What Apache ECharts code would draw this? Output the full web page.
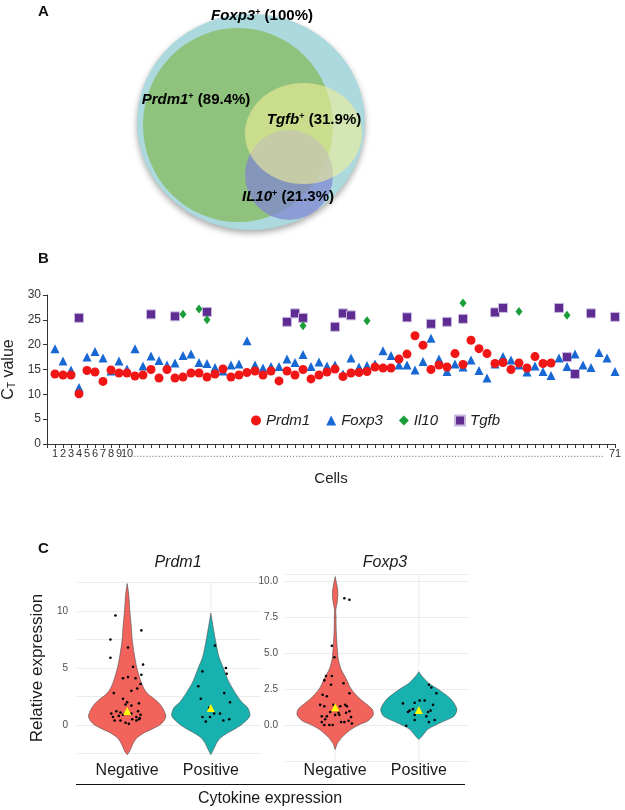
<!DOCTYPE html>
<html><head><meta charset="utf-8">
<script src="https://cdn.jsdelivr.net/npm/echarts@6/dist/echarts.min.js"></script>
<style>html,body{margin:0;padding:0;background:#fff}#c{width:625px;height:810px}</style>
</head><body><div id="c"></div>
<script>
const FONT = '"Liberation Sans", Arial, sans-serif';

// ---------- Panel A : Venn ----------
const vennSets = ['Foxp3', 'Prdm1', 'Tgfb', 'IL10'];
const vennPercent = ['100%', '89.4%', '31.9%', '21.3%'];

// ---------- Panel B : CT values per cell ----------
const prdm1Ct = [14.1,13.9,13.9,10.1,14.8,14.5,12.6,14.9,14.3,14.3,
 13.7,13.9,15.0,13.3,15.0,13.3,13.5,14.3,14.3,13.5,
 14.1,15.1,13.5,13.9,14.4,14.7,13.9,14.7,12.7,14.7,
 13.9,15.0,13.1,13.9,14.5,15.1,13.6,14.3,14.4,14.6,
 15.5,15.3,15.3,17.1,18.1,21.8,19.9,15.0,15.9,15.5,
 18.2,16.0,20.9,19.2,18.2,16.2,16.4,15.0,16.3,15.3,
 17.6,16.2,16.3,null,null,null,null,null,null,null,null];
const foxp3Ct = [19.2,16.7,14.9,11.4,17.5,18.6,17.3,14.7,16.7,15.1,
 19.2,15.7,17.7,16.8,15.9,16.3,17.8,18.1,16.4,16.2,
 15.4,14.7,15.9,16.1,20.8,15.9,15.3,15.6,15.6,17.1,
 16.4,18.0,15.6,16.5,15.7,15.9,14.1,17.3,15.5,15.8,
 16.1,18.8,17.8,15.9,15.9,14.9,16.6,21.3,17.1,14.6,
 16.1,15.5,16.9,14.8,13.3,16.1,17.6,16.9,15.9,14.5,
 15.7,14.6,13.8,17.3,15.6,18.1,15.9,15.4,18.4,17.3,
 14.6];
const il10Cells = [17,19,20,32,40,52,59,65];
const il10Ct    = [26.1,27.2,25.0,23.8,24.8,28.4,26.7,25.9];
const tgfbCells = [4,13,16,20,30,31,32,36,37,38,45,48,50,52,56,57,64,65,66,68,71];
const tgfbCt    = [25.4,26.1,25.7,26.6,24.6,26.3,25.4,23.6,26.3,25.9,25.5,24.2,24.6,25.2,26.5,27.4,27.4,17.5,14.1,26.3,25.6];
const cellTickLabels = ['1','2','3','4','5','6','7','8','9','10','71'];
const ctTicks = [0,5,10,15,20,25,30];

// ---------- Panel C : violins ----------
const groups = ['Negative', 'Positive'];
// violin outline: [value, half-width in group units]
const prdm1NegProfile = [[12.4,0],[11.5,0.018],[10,0.032],[8.75,0.048],[7.5,0.060],[6.25,0.084],[5,0.116],[4,0.156],[3.2,0.200],[2.7,0.251],[2.3,0.323],[1.8,0.395],[1.4,0.431],[0.8,0.463],[0.4,0.443],[0,0.389],[-0.35,0.299],[-0.7,0.200],[-1.1,0.120],[-1.5,0.080],[-2,0.048],[-2.3,0.030],[-2.6,0]];
const prdm1PosProfile = [[9.8,0],[9,0.018],[7.5,0.054],[6,0.096],[5,0.150],[3.8,0.215],[2.6,0.311],[2,0.371],[1.5,0.443],[0.8,0.467],[0.1,0.379],[-0.3,0.299],[-0.7,0.200],[-1.1,0.120],[-1.5,0.075],[-2,0.042],[-2.6,0]];
const foxp3NegProfile = [[10.3,0],[9.8,0.018],[9.4,0.030],[9.0,0.032],[8.5,0.024],[8.0,0.008],[7.5,0.010],[6.6,0.012],[5.4,0.024],[4.6,0.036],[3.9,0.068],[3.2,0.132],[2.5,0.191],[1.8,0.299],[1.1,0.443],[0.7,0.455],[0.3,0.395],[0.05,0.299],[-0.3,0.191],[-0.7,0.108],[-1.0,0.060],[-1.3,0.024],[-1.7,0]];
const foxp3PosProfile = [[3.7,0],[3.4,0.036],[2.9,0.120],[2.5,0.227],[1.8,0.383],[1.1,0.455],[0.6,0.419],[0.2,0.275],[-0.3,0.108],[-0.8,0.036],[-1.0,0]];
// individual cells: [jitter offset in group units, relative expression]
const prdm1NegDots = [[-0.14,9.6],[-0.20,7.5],[0.17,8.3],[0.01,6.8],[-0.20,5.9],[0.19,5.3],[0.07,5.1],[0.17,4.4],[-0.05,4.1],[0.01,4.2],[0.10,4.1],[0.16,3.6],[0.05,3.0],[0.12,3.2],[-0.16,2.8],[-0.05,2.3],[0.0,2.0],[-0.02,1.8],[0.14,1.9],[0.05,1.7],[-0.19,1.0],[-0.13,1.2],[-0.08,1.1],[-0.05,0.9],[0.05,1.0],[0.13,1.2],[0.16,0.9],[0.11,0.7],[0.14,0.5],[-0.17,0.7],[-0.15,0.4],[-0.08,0.4],[-0.02,0.2],[0.02,0.1],[0.06,0.5],[0.11,0.4],[0.15,0.6],[-0.10,0.8]];
const prdm1PosDots = [[0.05,6.96],[0.18,5.0],[-0.10,4.7],[0.19,4.5],[-0.15,3.4],[0.16,2.8],[-0.12,2.3],[0.23,2.0],[-0.02,1.5],[0.04,1.0],[0.11,1.0],[-0.10,0.7],[-0.01,0.7],[0.15,0.4],[0.22,0.5],[-0.06,0.3]];
const foxp3NegDots = [[0.11,8.8],[0.17,8.7],[-0.04,5.5],[-0.01,4.7],[-0.13,3.1],[-0.11,3.4],[-0.04,3.4],[0.10,2.9],[-0.05,2.8],[0.17,2.2],[-0.15,2.1],[-0.10,2.0],[-0.18,1.4],[-0.13,1.3],[-0.02,1.4],[0.06,1.3],[0.12,1.4],[0.14,1.3],[-0.06,0.9],[0.04,0.85],[0.13,0.85],[0.17,0.95],[-0.16,0.6],[-0.12,0.4],[-0.10,0.6],[0.0,0.7],[0.05,0.7],[0.07,0.2],[0.11,0.2],[0.16,0.3],[0.20,0.1],[-0.16,0.2],[-0.13,0.0],[-0.07,0.0],[-0.03,0.0],[0.19,0.55]];
const foxp3PosDots = [[0.12,2.8],[0.15,2.6],[0.21,2.2],[0.01,1.7],[0.07,1.7],[-0.19,1.5],[-0.05,1.55],[0.17,1.4],[-0.11,1.0],[-0.07,1.1],[0.14,1.0],[-0.13,0.9],[0.11,0.9],[-0.05,0.7],[0.09,0.6],[0.19,0.35],[-0.05,0.35],[0.12,0.2],[-0.15,-0.05]];
const prdm1Means = [1.23, 1.5];
const foxp3Means = [1.23, 1.04];

// ---------- build ----------
const chart = echarts.init(document.getElementById('c'), null, {renderer: 'canvas'});

// drawing order: Foxp3, Prdm1, IL10, Tgfb
const vennLayout = [
  {set: 0, cx: 251, cy: 122, w: 228, h: 216, color: '#abd9dd', opacity: 1, shadow: true},
  {set: 1, cx: 238, cy: 125, w: 190, h: 194, color: '#8fc27c', opacity: 1},
  {set: 3, cx: 289, cy: 175, w: 88, h: 90, color: '#8088d0', opacity: 0.75},
  {set: 2, cx: 303.5, cy: 133.5, w: 117, h: 101, color: '#f0ee98', opacity: 0.6}
];
const vennLabelPos = [[262, 16], [196, 100], [314, 120], [288, 197]];

const richGene = {
  i: {fontStyle: 'italic', fontWeight: 'bold', fontSize: 15, fontFamily: FONT, color: '#111'},
  s: {fontWeight: 'bold', fontSize: 9, fontFamily: FONT, color: '#111', verticalAlign: 'top'},
  b: {fontWeight: 'bold', fontSize: 15, fontFamily: FONT, color: '#111'}
};

function violinSeries(idx, profiles, colors) {
  return {
    type: 'custom', xAxisIndex: idx, yAxisIndex: idx, silent: true, clip: false, z: 2,
    data: profiles.map((p, i) => [i + 1, 0]),
    renderItem: function (params, api) {
      const prof = profiles[params.dataIndex];
      const c = api.value(0);
      const cs = params.coordSys;
      const right = prof.map(([v, w]) => api.coord([c + w, v]));
      const left = prof.slice().reverse().map(([v, w]) => api.coord([c - w, v]));
      const cx = api.coord([c, 0])[0];
      return {type: 'group', children: [
        {type: 'line', shape: {x1: cx, y1: cs.y, x2: cx, y2: cs.y + cs.height}, style: {stroke: '#ebebeb', lineWidth: 1}, z2: 0},
        {type: 'polygon', shape: {points: right.concat(left), smooth: 0.25}, style: {fill: colors[params.dataIndex], stroke: '#4d4d4d', lineWidth: 0.6}, z2: 1}
      ]};
    }
  };
}
function dotSeries(idx, dots, center) {
  return {type: 'scatter', xAxisIndex: idx, yAxisIndex: idx, silent: true, z: 3,
    symbol: 'circle', symbolSize: 2.6, itemStyle: {color: '#000', opacity: 1},
    data: dots.map(([o, v]) => [center + o, v])};
}
function meanSeries(idx, means) {
  return {type: 'scatter', xAxisIndex: idx, yAxisIndex: idx, silent: true, z: 4,
    symbol: 'triangle', symbolSize: 8, itemStyle: {color: '#ffff00', opacity: 1},
    data: means.map((v, i) => [i + 1, v])};
}

const hiddenAxis = {show: false, axisLine: {show: false}, splitLine: {show: false}, axisLabel: {show: false}, axisTick: {show: false}};

const violinX = (gi, margin) => ({
  gridIndex: gi, type: 'value', min: 0.4, max: 2.6, interval: 0.2,
  axisLine: {show: false}, axisTick: {show: false}, splitLine: {show: false},
  axisLabel: {margin: margin, fontSize: 16, color: '#1a1a1a', fontFamily: FONT,
    formatter: v => Math.abs(v - 1) < 1e-6 ? groups[0] : (Math.abs(v - 2) < 1e-6 ? groups[1] : '')}
});

const option = {
  animation: false,
  backgroundColor: '#fff',
  textStyle: {fontFamily: FONT},
  grid: [
    {left: 0, top: 0, width: 625, height: 250, outerBoundsMode: 'none'},
    {left: 47, top: 295, width: 568, height: 149, outerBoundsMode: 'none'},
    {left: 77, top: 582.5, width: 184, height: 171, outerBoundsMode: 'none'},
    {left: 285, top: 573.8, width: 184, height: 187.2, outerBoundsMode: 'none'}
  ],
  xAxis: [
    Object.assign({gridIndex: 0, type: 'value', min: 0, max: 625}, hiddenAxis),
    {gridIndex: 1, type: 'value', min: 0, max: 71, interval: 1,
     name: 'Cells', nameLocation: 'middle', nameGap: 27,
     nameTextStyle: {fontSize: 15, color: '#222', fontFamily: FONT},
     axisLine: {lineStyle: {color: '#333', width: 1}},
     axisTick: {length: 4, lineStyle: {color: '#333'}},
     splitLine: {show: false},
     axisLabel: {margin: 4, fontSize: 11, color: '#333', fontFamily: FONT,
       rich: {d: {fontSize: 11, color: '#888', fontFamily: FONT}},
       formatter: v => {
         if (v >= 1 && v <= 10) return cellTickLabels[v - 1];
         if (v === 71) return cellTickLabels[10];
         if (v === 40) return '{d|' + '.'.repeat(155) + '}';
         return '';
       }}},
    violinX(2, 9),
    violinX(3, 2)
  ],
  yAxis: [
    Object.assign({gridIndex: 0, type: 'value', min: 0, max: 250, inverse: true}, hiddenAxis),
    {gridIndex: 1, type: 'value', min: 0, max: 30, interval: 5,
     name: 'C{sub|T} value', nameLocation: 'middle', nameGap: 22,
     nameTextStyle: {fontSize: 16, color: '#222', fontFamily: FONT,
       rich: {sub: {fontSize: 10, color: '#222', verticalAlign: 'bottom', fontFamily: FONT}}},
     axisLine: {show: true, lineStyle: {color: '#333'}},
     axisTick: {show: true, length: 4, lineStyle: {color: '#333'}},
     splitLine: {show: false},
     axisLabel: {fontSize: 12, color: '#333', margin: 6, fontFamily: FONT,
       formatter: v => ctTicks.includes(v) ? String(v) : ''}},
    {gridIndex: 2, type: 'value', min: -2.5, max: 12.5, interval: 2.5,
     name: 'Relative expression', nameLocation: 'middle', nameGap: 31,
     nameTextStyle: {fontSize: 17, color: '#1a1a1a', fontFamily: FONT},
     axisLine: {show: false}, axisTick: {show: false},
     splitLine: {lineStyle: {color: '#ebebeb', width: 1}},
     axisLabel: {fontSize: 10, color: '#4d4d4d', margin: 9, fontFamily: FONT,
       formatter: v => (v >= 0 && v % 5 === 0 && v <= 10) ? String(v) : ''}},
    {gridIndex: 3, type: 'value', min: -2.5, max: 10.5, interval: 2.5,
     axisLine: {show: false}, axisTick: {show: false},
     splitLine: {lineStyle: {color: '#ebebeb', width: 1}},
     axisLabel: {fontSize: 10, color: '#4d4d4d', margin: 7, fontFamily: FONT,
       formatter: v => v >= 0 ? v.toFixed(1) : ''}}
  ],
  legend: {
    left: 246, top: 408, itemWidth: 10, itemHeight: 10, itemGap: 16,
    textStyle: {fontStyle: 'italic', fontSize: 15, color: '#222', fontFamily: FONT},
    data: [{name: 'Prdm1', icon: 'circle'}, {name: 'Foxp3', icon: 'triangle'},
           {name: 'Il10', icon: 'diamond'}, {name: 'Tgfb', icon: 'rect'}]
  },
  series: [
    {type: 'scatter', xAxisIndex: 0, yAxisIndex: 0, silent: true, z: 1,
     data: vennLayout.map(c => ({
       name: vennSets[c.set], value: [c.cx, c.cy], symbolSize: [c.w, c.h],
       itemStyle: Object.assign({color: c.color, opacity: c.opacity},
         c.shadow ? {shadowBlur: 6, shadowOffsetY: 3, shadowColor: 'rgba(0,0,0,0.35)'} : {})
     }))},
    {type: 'scatter', name: 'Prdm1', xAxisIndex: 1, yAxisIndex: 1, symbol: 'circle', symbolSize: 9,
     itemStyle: {color: '#f01616', opacity: 1}, z: 5,
     data: prdm1Ct.map((v, i) => [i + 1, v]).filter(d => d[1] !== null)},
    {type: 'scatter', name: 'Foxp3', xAxisIndex: 1, yAxisIndex: 1, symbol: 'triangle', symbolSize: 9,
     itemStyle: {color: '#1768d3', opacity: 1}, z: 4,
     data: foxp3Ct.map((v, i) => [i + 1, v])},
    {type: 'scatter', name: 'Il10', xAxisIndex: 1, yAxisIndex: 1, symbol: 'diamond', symbolSize: [7, 9],
     itemStyle: {color: '#1b9e3a', opacity: 1}, z: 3,
     data: il10Cells.map((c, i) => [c, il10Ct[i]])},
    {type: 'scatter', name: 'Tgfb', xAxisIndex: 1, yAxisIndex: 1, symbol: 'rect', symbolSize: 9,
     itemStyle: {color: '#5f2d91', borderColor: '#c9b8e0', borderWidth: 1, opacity: 1}, z: 2,
     data: tgfbCells.map((c, i) => [c, tgfbCt[i]])},
    violinSeries(2, [prdm1NegProfile, prdm1PosProfile], ['#f2635b', '#17b2b0']),
    dotSeries(2, prdm1NegDots, 1), dotSeries(2, prdm1PosDots, 2), meanSeries(2, prdm1Means),
    violinSeries(3, [foxp3NegProfile, foxp3PosProfile], ['#f2635b', '#17b2b0']),
    dotSeries(3, foxp3NegDots, 1), dotSeries(3, foxp3PosDots, 2), meanSeries(3, foxp3Means)
  ],
  graphic: [
    {type: 'text', left: 38, top: 4, style: {text: 'A', fontSize: 15, fontWeight: 'bold', fill: '#111', fontFamily: FONT}},
    {type: 'text', left: 38, top: 251, style: {text: 'B', fontSize: 15, fontWeight: 'bold', fill: '#111', fontFamily: FONT}},
    {type: 'text', left: 38, top: 541, style: {text: 'C', fontSize: 15, fontWeight: 'bold', fill: '#111', fontFamily: FONT}},
    ...vennLabelPos.map((p, i) => ({type: 'text', x: p[0], y: p[1], z: 100,
      style: {text: '{i|' + vennSets[i] + '}{s|+}{b| (' + vennPercent[i] + ')}', rich: richGene,
        align: 'center', verticalAlign: 'middle'}})),
    {type: 'text', x: 178, y: 563, style: {text: 'Prdm1', fontSize: 16, fontStyle: 'italic', fill: '#1a1a1a', fontFamily: FONT, align: 'center', verticalAlign: 'middle'}},
    {type: 'text', x: 385, y: 563, style: {text: 'Foxp3', fontSize: 16, fontStyle: 'italic', fill: '#1a1a1a', fontFamily: FONT, align: 'center', verticalAlign: 'middle'}},
    {type: 'line', shape: {x1: 76, y1: 784.5, x2: 465, y2: 784.5}, style: {stroke: '#111', lineWidth: 1}},
    {type: 'text', x: 270, y: 799, style: {text: 'Cytokine expression', fontSize: 16, fill: '#1a1a1a', fontFamily: FONT, align: 'center', verticalAlign: 'middle'}}
  ]
};
chart.setOption(option);
</script></body></html>
